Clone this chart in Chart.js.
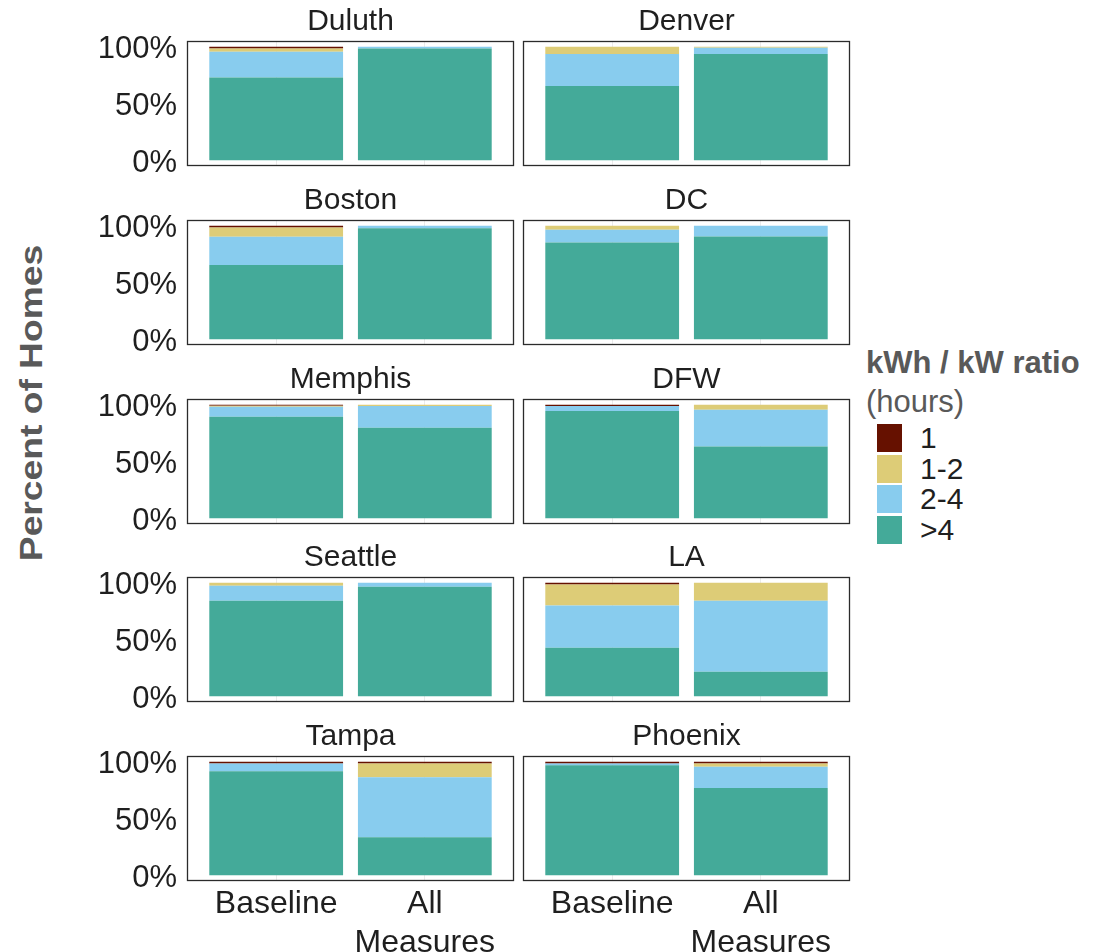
<!DOCTYPE html>
<html>
<head>
<meta charset="utf-8">
<script src="https://cdn.jsdelivr.net/npm/chart.js"></script>
<style>
  body { margin: 0; background: #fff; width: 1101px; height: 952px; overflow: hidden; position: relative;
         font-family: "Liberation Sans", Arial, sans-serif; }
  .panel { position: absolute; }
  #ylab { position: absolute; left: 32px; top: 403px; white-space: nowrap;
          transform: translate(-50%, -50%) rotate(-90deg) scaleX(1.2);
          font-weight: bold; font-size: 31px; color: #595959; }
  .leg { position: absolute; white-space: nowrap; }
</style>
</head>
<body>
<div id="ylab">Percent of Homes</div>
<div id="legend"></div>
<script>
const cities = ['Duluth', 'Denver', 'Boston', 'DC', 'Memphis', 'DFW', 'Seattle', 'LA', 'Tampa', 'Phoenix'];
const scenarios = ['Baseline', ['All', 'Measures']];
const ratioBins = ['1', '1-2', '2-4', '>4'];
const binColors = ['#661100', '#DDCC77', '#88CCEE', '#44AA99'];
const yTicks = [0, 50, 100];

// percent of homes in each ratio bin, per city: [Baseline, All Measures]
const share1 = [[1.5, 0], [0, 0], [1.5, 0], [0, 0], [1.0, 0], [1.2, 0], [0, 0], [1.5, 0], [1.5, 1.5], [1.5, 1.5]];
const share1to2 = [[2.9, 0], [6.4, 0.9], [8.2, 0], [3.5, 0], [0.8, 1.2], [0, 4.4], [2.6, 0], [18.6, 15.8], [0, 12.2], [0, 2.9]];
const share2to4 = [[22.8, 1.5], [28.1, 5.6], [25.0, 2.3], [11.4, 9.6], [8.8, 19.0], [4.4, 32.5], [13.2, 3.5], [37.1, 62.6], [7.0, 52.8], [1.7, 18.7]];
const shareOver4 = [[72.8, 98.5], [65.5, 93.5], [65.3, 97.7], [85.1, 90.4], [89.4, 79.8], [94.4, 63.1], [84.2, 96.5], [42.8, 21.6], [91.5, 33.5], [96.8, 76.9]];
const seriesValues = [share1, share1to2, share2to4, shareOver4];

const FONT = '"Liberation Sans", Arial, sans-serif';
const TEXT = '#1f1f1f';
Chart.defaults.font.family = FONT;

// facet grid geometry
const colLeft = [187, 523];
const rowTop = [41, 220, 399, 577, 756];
const panelW = 327, panelH = 125;

const panelFrame = {
  id: 'panelFrame',
  afterDatasetsDraw(chart) {
    const { ctx, chartArea: a } = chart;
    const l = Math.round(a.left) + 0.5, t = Math.round(a.top) + 0.5;
    ctx.save();
    ctx.strokeStyle = '#2b2b2b';
    ctx.lineWidth = 1.3;
    ctx.strokeRect(l, t, Math.round(a.right) - Math.round(a.left) - 1, Math.round(a.bottom) - Math.round(a.top) - 1);
    ctx.restore();
  }
};

cities.forEach((city, i) => {
  const row = Math.floor(i / 2), col = i % 2;
  const bottomRow = row === rowTop.length - 1;
  const padL = col === 0 ? 97 : 2, padR = 2, padT = 41, padB = bottomRow ? 72 : 22;

  const wrap = document.createElement('div');
  wrap.className = 'panel';
  wrap.style.left = (colLeft[col] - padL) + 'px';
  wrap.style.top = (rowTop[row] - padT) + 'px';
  const canvas = document.createElement('canvas');
  canvas.width = panelW + padL + padR;
  canvas.height = panelH + padT + padB;
  wrap.appendChild(canvas);
  document.body.appendChild(wrap);

  const datasets = ratioBins.map((bin, k) => ({
    label: bin,
    data: seriesValues[k][i].map((v, j) => ({ x: j + 1, y: v })),
    backgroundColor: binColors[k],
    borderWidth: 0,
    categoryPercentage: 1,
    barPercentage: 0.9
  })).reverse();

  new Chart(canvas, {
    type: 'bar',
    data: { datasets },
    plugins: [panelFrame],
    options: {
      responsive: false,
      animation: false,
      layout: { padding: { right: padR } },
      plugins: {
        legend: { display: false },
        tooltip: { enabled: false },
        title: {
          display: true, text: city, fullSize: false, color: TEXT,
          font: { size: 30, weight: 'normal', lineHeight: '30px' },
          padding: { top: 7, bottom: 4 }
        }
      },
      scales: {
        x: {
          type: 'linear', stacked: true, min: 0.4, max: 2.6, offset: false,
          afterBuildTicks: s => { s.ticks = scenarios.map((_, j) => ({ value: j + 1 })); },
          afterFit: s => { s.height = padB; s.paddingLeft = 0; s.paddingRight = 0; },
          grid: { color: '#ebebeb', drawTicks: false, offset: false },
          border: { display: false },
          ticks: {
            display: bottomRow, autoSkip: false, maxRotation: 0, padding: 4,
            color: TEXT, font: { size: 32, lineHeight: '39px' },
            callback: (v, j) => scenarios[j]
          }
        },
        y: {
          stacked: true, min: -5, max: 105,
          afterBuildTicks: s => { s.ticks = yTicks.map(v => ({ value: v })); },
          afterFit: s => { s.width = padL; s.paddingTop = 0; s.paddingBottom = 0; },
          grid: { display: false, drawTicks: false },
          border: { display: false },
          ticks: {
            display: col === 0, padding: 10, labelOffset: 3,
            color: TEXT, font: { size: 31 },
            callback: v => v + '%'
          }
        }
      }
    }
  });
});

// legend
const legend = document.getElementById('legend');
function addLeg(html, css) {
  const d = document.createElement('div');
  d.className = 'leg';
  d.innerHTML = html;
  Object.assign(d.style, css);
  legend.appendChild(d);
}
addLeg('kWh / kW ratio', { left: '866px', top: '345px', fontSize: '31px', fontWeight: 'bold', color: '#595959', lineHeight: '36px' });
addLeg('(hours)', { left: '866px', top: '384px', fontSize: '31px', color: '#595959', lineHeight: '36px' });
ratioBins.forEach((bin, k) => {
  const top = 424 + k * 30.7;
  addLeg('', { left: '877px', top: top + 'px', width: '25px', height: '28px', background: binColors[k] });
  const t = document.createElement('div');
  t.className = 'leg';
  t.textContent = bin;
  Object.assign(t.style, { left: '920px', top: top + 'px', fontSize: '30px', lineHeight: '28px', color: TEXT });
  legend.appendChild(t);
});
</script>
</body>
</html>
